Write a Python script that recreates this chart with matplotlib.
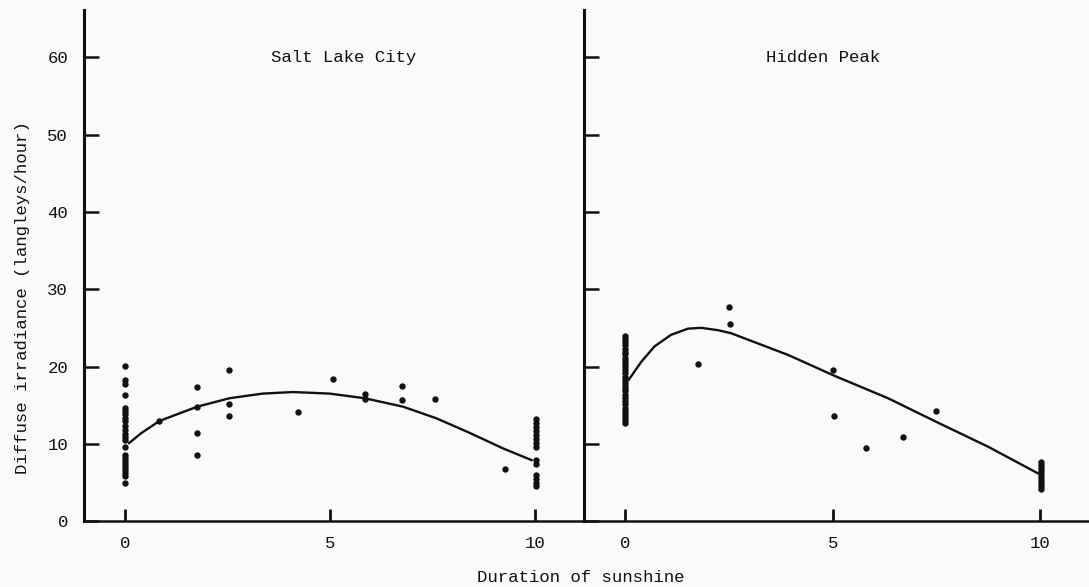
import matplotlib
matplotlib.use("Agg")
import matplotlib.pyplot as plt

sites = ["Salt Lake City", "Hidden Peak"]

slc_at0 = [20.1, 18.2, 17.7, 16.3, 14.6, 14.2, 13.8, 13.4, 12.9, 12.3, 11.8, 11.3,
           10.9, 10.5, 9.6, 8.6, 8.2, 7.8, 7.4, 7.0, 6.6, 6.2, 5.8, 5.0]
slc_at10 = [13.2, 12.7, 12.2, 11.6, 11.1, 10.6, 10.1, 9.6, 7.9, 7.4, 6.0, 5.5, 5.0, 4.5]
slc_x = [0.84, 1.76, 1.76, 1.76, 1.76, 2.55, 2.55, 2.55, 4.23, 5.07, 5.85, 5.85,
         6.75, 6.75, 7.56, 9.27]
slc_y = [12.95, 17.3, 14.8, 11.4, 8.5, 19.5, 15.1, 13.65, 14.1, 18.35, 16.5, 15.8,
         17.5, 15.7, 15.8, 6.8]
slc_fit_x = [0.1, 0.4, 0.84, 1.76, 2.55, 3.36, 4.1, 4.99, 5.85, 6.79, 7.6, 8.42, 9.23, 9.92]
slc_fit_y = [10.1, 11.4, 12.96, 14.8, 15.9, 16.5, 16.7, 16.5, 15.9, 14.8, 13.3, 11.4, 9.4, 7.9]

hp_at0 = [23.9, 23.5, 23.2, 22.8, 22.3, 21.9, 21.6, 21.1, 20.7, 20.3, 19.9, 19.6,
          19.1, 18.7, 18.3, 17.9, 17.5, 17.1, 16.8, 16.3, 15.9, 15.5, 15.1, 14.7,
          14.3, 13.9, 13.5, 13.1, 12.7]
hp_at10 = [7.7, 7.3, 6.9, 6.5, 6.1, 5.7, 5.3, 4.9, 4.5, 4.2]
hp_x = [1.75, 2.5, 2.52, 5.0, 5.02, 5.8, 6.7, 7.49]
hp_y = [20.3, 27.75, 25.5, 19.6, 13.65, 9.5, 10.85, 14.25]
hp_fit_x = [0.08, 0.38, 0.7, 1.1, 1.51, 1.83, 2.23, 2.55, 3.92, 5.04, 6.33, 7.53, 8.74, 9.94]
hp_fit_y = [18.3, 20.6, 22.6, 24.1, 24.9, 25.0, 24.7, 24.3, 21.5, 18.8, 15.9, 12.75, 9.64, 6.2]

xticks = [0, 5, 10]
yticks = [0, 10, 20, 30, 40, 50, 60]

plt.rcParams['font.family'] = ['Liberation Mono', 'DejaVu Sans Mono']
ink = '#111111'
paper = '#fafaf9'

fig = plt.figure(figsize=(10.89, 5.87), dpi=100, facecolor=paper)
ax1 = fig.add_axes([84 / 1089, 1 - 521.2 / 587, 500 / 1089, 511.2 / 587])
ax2 = fig.add_axes([584 / 1089, 1 - 521.2 / 587, 506 / 1089, 511.2 / 587])

panels = [
    (ax1, slc_at0, slc_at10, slc_x, slc_y, slc_fit_x, slc_fit_y, 5.33),
    (ax2, hp_at0, hp_at10, hp_x, hp_y, hp_fit_x, hp_fit_y, 4.77),
]

for i, (ax, at0, at10, px, py, fx, fy, title_x) in enumerate(panels):
    ax.set_facecolor(paper)
    ax.plot([0] * len(at0), at0, 'o', color=ink, ms=4.6, mew=0)
    ax.plot([10.02] * len(at10), at10, 'o', color=ink, ms=4.6, mew=0)
    ax.plot(px, py, 'o', color=ink, ms=4.6, mew=0)
    ax.plot(fx, fy, '-', color=ink, lw=1.7)

    ax.set_xlim(-1, 11.2)
    ax.set_ylim(0, 66.1)
    ax.set_xticks(xticks)
    ax.set_yticks(yticks)
    ax.tick_params(axis='x', direction='in', length=9, width=2, color=ink,
                   labelsize=12.5, pad=11, labelcolor=ink)
    ax.tick_params(axis='y', direction='in', length=11, width=1.8, color=ink,
                   labelsize=12.5, pad=11.5, labelcolor=ink)
    if i == 1:
        ax.set_yticklabels([])
    for side in ['top', 'right']:
        ax.spines[side].set_visible(False)
    ax.spines['left'].set_linewidth(2.2)
    ax.spines['bottom'].set_linewidth(1.8)
    ax.spines['left'].set_color(ink)
    ax.spines['bottom'].set_color(ink)

    ax.text(title_x, 60, sites[i], ha='center', va='center', fontsize=12.5, color=ink)

ax1.set_ylabel("Diffuse irradiance (langleys/hour)", fontsize=12.5, color=ink)
ax1.yaxis.set_label_coords(-0.108, 0.437)
fig.text(581 / 1089, 1 - 577 / 587, "Duration of sunshine", ha='center', va='center',
         fontsize=12.5, color=ink)

fig.savefig("out.png", dpi=100, facecolor=paper)
